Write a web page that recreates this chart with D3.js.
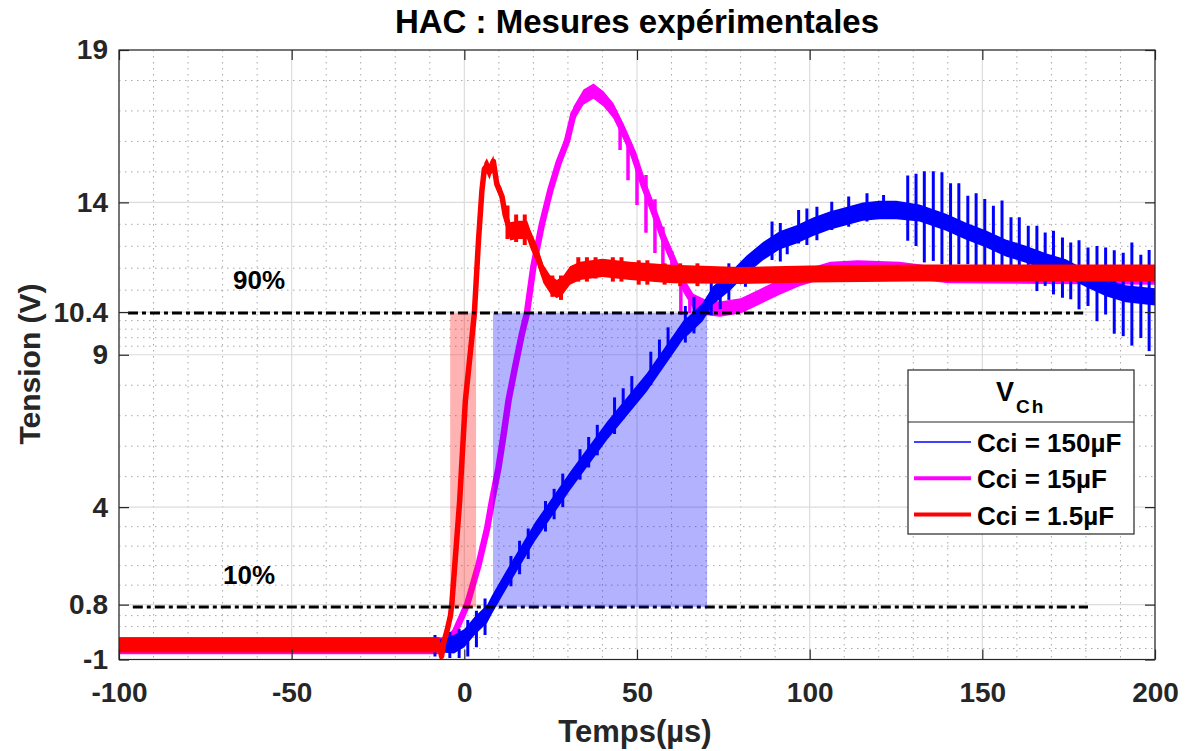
<!DOCTYPE html>
<html><head><meta charset="utf-8">
<script src="https://cdn.jsdelivr.net/npm/d3@7"></script>
<style>
body{margin:0;background:#fff}
svg{display:block}
text{font-family:Arial,"Liberation Sans",Helvetica,sans-serif;font-weight:bold}
</style>
</head><body>
<svg id="c" width="1188" height="751"></svg>
<script>
// ---------- data ----------
const titleText = "HAC : Mesures expérimentales";
const xLabel = "Temps(µs)";
const yLabel = "Tension (V)";
const xTicks = [-100, -50, 0, 50, 100, 150, 200];
const xTickLabels = ["-100", "-50", "0", "50", "100", "150", "200"];
const yTicks = [-1, 0.8, 4, 9, 10.4, 14, 19];
const yTickLabels = ["-1", "0.8", "4", "9", "10.4", "14", "19"];
const seriesNames = ["Cci = 150µF", "Cci = 15µF", "Cci = 1.5µF"];
const seriesColors = ["#0000ff", "#ff00ff", "#ff0000"];

// [time µs, tension V, noise half-band V]
const blue150 = [
  [-100,-0.55,0.2],[-8,-0.55,0.2],[-3,-0.5,0.3],[0,-0.3,0.3],[3,0.1,0.3],[6.6,0.5,0.3],
  [8,0.8,0.3],[11.8,1.55,0.3],[20.5,3.2,0.3],[30.6,4.85,0.3],[41.3,6.5,0.3],[52.9,8.1,0.3],
  [63.3,9.8,0.3],[65.3,10.0,0.3],[69,10.4,0.3],[72,10.95,0.3],[76.9,11.4,0.3],[81.7,11.95,0.3],
  [86.5,12.4,0.3],[91.3,12.75,0.3],[96.2,12.95,0.3],[101,13.2,0.3],[105.8,13.4,0.3],
  [110.6,13.55,0.3],[115.4,13.7,0.3],[120.2,13.75,0.3],[125.1,13.75,0.3],[131.8,13.65,0.28],
  [139.5,13.35,0.28],[145.3,13.05,0.28],[151.1,12.8,0.28],[156.8,12.5,0.28],[162.6,12.3,0.28],
  [168.4,12.05,0.28],[174.2,11.85,0.28],[180,11.5,0.28],[185.8,11.2,0.28],[191.5,11.0,0.28],
  [200,10.9,0.28]
];
const magenta15 = [
  [-100,-0.55,0.28],[-6,-0.55,0.28],[-3.1,-0.2,0.2],[0.8,0.8,0.2],[4.1,2.1,0.2],[6.6,3.3,0.2],
  [8.0,4.2,0.2],[9.9,5.3,0.2],[11.4,6.4,0.2],[12.8,7.5,0.2],[14.7,8.6,0.2],[16.7,9.7,0.2],
  [18.1,10.35,0.2],[20.0,11.9,0.2],[22.5,13.3,0.2],[24.9,14.4,0.2],[27.3,15.3,0.25],
  [29.7,16.0,0.25],[31.6,16.9,0.25],[34.5,17.45,0.25],[37.4,17.65,0.25],[40.3,17.4,0.25],
  [43.2,17.0,0.25],[46,16.35,0.25],[48.9,15.6,0.25],[51.8,14.6,0.25],[54.7,13.75,0.25],
  [57.6,12.85,0.25],[60.5,12.1,0.25],[63.4,11.3,0.25],[66.3,10.75,0.25],[70.1,10.55,0.25],
  [74,10.5,0.25],[80,10.6,0.25],[85.5,10.9,0.25],[91,11.2,0.25],[97,11.5,0.25],[106,11.8,0.25],
  [114,11.85,0.25],[126,11.8,0.25],[140,11.6,0.25],[200,11.55,0.25]
];
const red1_5 = [
  [-100,-0.52,0.25],[-7.2,-0.52,0.25],[-6.6,-0.9,0.12],[-6.0,-0.45,0.1],[-5.0,-0.05,0.1],
  [-4.0,0.45,0.1],[-3.6,0.85,0.1],[-1.35,4.2,0.1],[0.3,7.5,0.1],[2.9,10.35,0.1],[4.1,12.75,0.1],
  [5.1,14.4,0.12],[5.8,15.1,0.2],[6.5,15.2,0.25],[7.3,15.0,0.25],[8.4,15.35,0.2],[9.4,14.6,0.2],
  [10.9,14.2,0.25],[11.8,13.6,0.3],[13.3,13.05,0.3],[15.3,13.1,0.3],[18.2,13.1,0.3],
  [19.1,12.8,0.3],[21,12.3,0.3],[22.9,11.65,0.3],[24.9,11.3,0.3],[26.8,11.15,0.3],
  [28.7,11.3,0.3],[30.6,11.6,0.3],[33.5,11.75,0.3],[40,11.85,0.3],[48,11.75,0.3],
  [60,11.65,0.3],[80,11.6,0.28],[100,11.65,0.28],[130,11.68,0.28],[160,11.68,0.28],[200,11.68,0.28]
];
// spikes: [time µs, low V, high V]
const blueSpikes = [
  [-8.5,-0.9,-0.2],[-4.2,-0.95,-0.1],[-1.5,-0.95,0.0],[1.0,-0.9,0.3],[3.5,-0.6,0.6],[6.0,-0.2,1.0],
  [13.5,1.4,2.4],[16.0,1.8,2.9],[18.5,2.3,3.3],[23.5,3.2,4.2],[26,3.6,4.6],[28.5,4.0,5.1],
  [33.5,4.9,5.9],[36,5.3,6.3],[38.5,5.7,6.7],[43.5,6.4,7.6],[46,6.9,7.9],[48.5,7.3,8.3],
  [54,8.0,9.1],[56.5,8.5,9.5],[59,8.9,9.9],[64,9.4,10.6],[66.5,9.7,10.9],[71.5,10.3,11.5],
  [74.1,10.5,11.8],[76.6,10.8,12.0],
  [81.4,11.23,12.16],[89.1,12.11,13.37],[91.5,12.06,13.32],[93.5,12.3,13.1],[96.8,12.65,13.75],
  [99.2,12.6,13.8],[102.1,12.76,13.86],[106.4,13.09,14.02],[111.3,13.2,14.19],[116.6,13.37,14.3],
  [121.4,13.48,14.24],
  [128.4,12.74,14.88],[130.8,12.57,14.94],[133.2,12.03,15.02],[135.8,12.08,15.02],[138.3,11.97,14.99],
  [140.8,11.92,14.63],[143.2,11.97,14.63],[145.8,11.97,14.22],[148.2,11.86,14.30],[150.7,11.81,14.11],
  [153.2,11.75,13.89],[155.7,11.70,14.06],[158.3,11.75,13.51],[160.7,11.59,13.51],[163.3,11.42,13.23],
  [165.8,11.09,13.23],[168.2,11.26,13.01],[170.6,10.98,13.07],[173.2,10.87,12.85],[175.6,10.82,12.68],
  [178.0,10.49,12.76],[180.6,10.60,12.52],[183.2,10.10,12.57],[185.7,10.32,12.52],[188.2,9.69,12.43],
  [190.8,9.61,12.35],[193.3,9.30,12.68],[195.9,9.55,12.28],[198.3,9.12,12.44]
];
const magentaSpikes = [
  [45.1,15.72,16.5],[47.4,14.73,16.1],[50.0,13.91,15.4],[52.6,13.0,14.9],[55.2,12.34,14.1],
  [57.5,11.78,13.2],[60.1,11.36,12.4],[62.7,10.31,11.6],[65.3,10.37,11.0]
];
const redSpikes = [
  [12.5,12.8,13.9],[15.0,12.7,13.6],[17.5,12.6,13.6],[25.5,10.9,11.6],[28.0,10.8,11.6],
  [33.0,11.4,12.2],[35.5,11.4,12.2],[38.0,11.5,12.2],[43.0,11.4,12.2],[45.5,11.4,12.2],
  [50.5,11.3,12.1],[53.0,11.3,12.1],[58.0,11.3,12.0],[62.5,11.25,12.0],[67.5,11.25,12.0]
];
// reference levels and rise-time windows
const level90 = 10.37, level90Span = [-97.4, 179.2], label90 = "90%";
const level10 = 0.72, level10Span = [-96, 180.6], label10 = "10%";
const redWindow = [-4.1, 3.4], blueWindow = [8.3, 70.3];

// ---------- drawing ----------
const svg = d3.select("#c");
const L = 119, R = 1155, T = 50, B = 659.5;
const x = d3.scaleLinear().domain([-100, 200]).range([L, R]);
const y = d3.scaleLinear().domain([-1, 19]).range([B, T]);
const axisCol = "#262626";
const FONT = "Arial, 'Liberation Sans', sans-serif";

svg.append("rect").attr("width", 1188).attr("height", 751).attr("fill", "#fff");
svg.append("defs").append("clipPath").attr("id", "clip")
  .append("rect").attr("x", L).attr("y", T).attr("width", R - L).attr("height", B - T);

// minor grid
const minorX = d3.range(-100, 201, 10).filter(v => !xTicks.includes(v));
const minorY = [];
for (let i = 0; i < yTicks.length - 1; i++) {
  const a = yTicks[i], b = yTicks[i + 1];
  for (let k = 1; k < 5; k++) minorY.push(a + (b - a) * k / 5);
}
const grid = svg.append("g");
grid.selectAll(".mx").data(minorX).join("line")
  .attr("x1", d => x(d)).attr("x2", d => x(d)).attr("y1", T).attr("y2", B)
  .attr("stroke", "#a8a8a8").attr("stroke-width", 1).attr("stroke-dasharray", "1.5,4.5");
grid.selectAll(".my").data(minorY).join("line")
  .attr("y1", d => y(d)).attr("y2", d => y(d)).attr("x1", L).attr("x2", R)
  .attr("stroke", "#a8a8a8").attr("stroke-width", 1).attr("stroke-dasharray", "1.5,4.5");
grid.selectAll(".gx").data(xTicks).join("line")
  .attr("x1", d => x(d)).attr("x2", d => x(d)).attr("y1", T).attr("y2", B)
  .attr("stroke", "#dcdcdc").attr("stroke-width", 1.2);
grid.selectAll(".gy").data(yTicks).join("line")
  .attr("y1", d => y(d)).attr("y2", d => y(d)).attr("x1", L).attr("x2", R)
  .attr("stroke", "#dcdcdc").attr("stroke-width", 1.2);

const plot = svg.append("g").attr("clip-path", "url(#clip)");
function drawSeries(data, color, w) {
  plot.append("path").datum(data)
    .attr("d", d3.area().x(d => x(d[0])).y0(d => y(d[1] - d[2])).y1(d => y(d[1] + d[2])))
    .attr("fill", color);
  plot.append("path").datum(data)
    .attr("d", d3.line().x(d => x(d[0])).y(d => y(d[1])))
    .attr("fill", "none").attr("stroke", color).attr("stroke-width", w).attr("stroke-linejoin", "round");
}
function drawSpikes(data, color, w) {
  plot.selectAll(null).data(data).join("line")
    .attr("x1", d => x(d[0])).attr("x2", d => x(d[0]))
    .attr("y1", d => y(d[1])).attr("y2", d => y(d[2]))
    .attr("stroke", color).attr("stroke-width", w);
}
drawSeries(magenta15, seriesColors[1], 6.5);
drawSpikes(magentaSpikes, seriesColors[1], 3.5);
drawSeries(blue150, seriesColors[0], 6);
drawSpikes(blueSpikes, seriesColors[0], 3);
drawSeries(red1_5, seriesColors[2], 5.5);
drawSpikes(redSpikes, seriesColors[2], 4);

// reference dash-dot lines
[[level90, level90Span], [level10, level10Span]].forEach(([lv, sp]) => {
  plot.append("line").attr("x1", x(sp[0])).attr("x2", x(sp[1]))
    .attr("y1", y(lv)).attr("y2", y(lv))
    .attr("stroke", "#000").attr("stroke-width", 3).attr("stroke-dasharray", "10,4,4,4");
});

// rise-time windows
plot.append("rect").attr("x", x(redWindow[0])).attr("width", x(redWindow[1]) - x(redWindow[0]))
  .attr("y", y(level90)).attr("height", y(level10) - y(level90))
  .attr("fill", "#ff0000").attr("fill-opacity", 0.3);
plot.append("rect").attr("x", x(blueWindow[0])).attr("width", x(blueWindow[1]) - x(blueWindow[0]))
  .attr("y", y(level90)).attr("height", y(level10) - y(level90))
  .attr("fill", "#0000ff").attr("fill-opacity", 0.3);

// level labels
svg.append("text").attr("x", 233).attr("y", 289).attr("font-size", 26).attr("fill", "#000").text(label90);
svg.append("text").attr("x", 223).attr("y", 584).attr("font-size", 26).attr("fill", "#000").text(label10);

// axes (inward ticks)
function styleAxis(g) {
  g.select(".domain").remove();
  g.selectAll(".tick line").attr("stroke", axisCol).attr("stroke-width", 1.2);
  g.selectAll(".tick text").attr("fill", axisCol).attr("font-size", 28)
    .attr("font-family", FONT).attr("font-weight", "bold");
}
svg.append("g").attr("transform", `translate(0,${B})`)
  .call(d3.axisBottom(x).tickValues(xTicks).tickSize(-10).tickPadding(23)
    .tickFormat((d, i) => xTickLabels[i]))
  .call(styleAxis);
svg.append("g").attr("transform", `translate(0,${T})`)
  .call(d3.axisTop(x).tickValues(xTicks).tickSize(-10).tickFormat(""))
  .call(styleAxis);
svg.append("g").attr("transform", `translate(${L},0)`)
  .call(d3.axisLeft(y).tickValues(yTicks).tickSize(-10).tickPadding(11)
    .tickFormat((d, i) => yTickLabels[i]))
  .call(styleAxis);
svg.append("g").attr("transform", `translate(${R},0)`)
  .call(d3.axisRight(y).tickValues(yTicks).tickSize(-10).tickFormat(""))
  .call(styleAxis);
svg.selectAll("text").attr("font-family", FONT);
svg.append("rect").attr("x", L).attr("y", T).attr("width", R - L).attr("height", B - T)
  .attr("fill", "none").attr("stroke", axisCol).attr("stroke-width", 1.2);

// titles
svg.append("text").attr("x", 637).attr("y", 33).attr("text-anchor", "middle")
  .attr("font-size", 33).attr("fill", "#000").text(titleText);
svg.append("text").attr("x", 635).attr("y", 742).attr("text-anchor", "middle")
  .attr("font-size", 31).attr("fill", axisCol).text(xLabel);
svg.append("text").attr("transform", "translate(40,364) rotate(-90)").attr("text-anchor", "middle")
  .attr("font-size", 30).attr("fill", axisCol).text(yLabel);

// legend
const lg = svg.append("g");
lg.append("rect").attr("x", 908).attr("y", 370).attr("width", 226).attr("height", 164)
  .attr("fill", "#fff").attr("stroke", axisCol).attr("stroke-width", 1.2);
lg.append("line").attr("x1", 908).attr("x2", 1134).attr("y1", 422).attr("y2", 422)
  .attr("stroke", axisCol).attr("stroke-width", 1.2);
const lt = lg.append("text").attr("x", 996).attr("y", 401).attr("font-size", 27).attr("fill", "#000");
lt.append("tspan").text("V");
lt.append("tspan").attr("dy", 12).attr("font-size", 19).attr("letter-spacing", 2).attr("dx", 2).text("Ch");
const legW = [1.5, 4, 4];
seriesNames.forEach((nm, i) => {
  const yy = 442 + i * 36.3;
  lg.append("line").attr("x1", 914).attr("x2", 971).attr("y1", yy).attr("y2", yy)
    .attr("stroke", seriesColors[i]).attr("stroke-width", legW[i]);
  lg.append("text").attr("x", 977).attr("y", yy + 10).attr("font-size", 26).attr("fill", "#000").text(nm);
});
</script>
</body></html>
